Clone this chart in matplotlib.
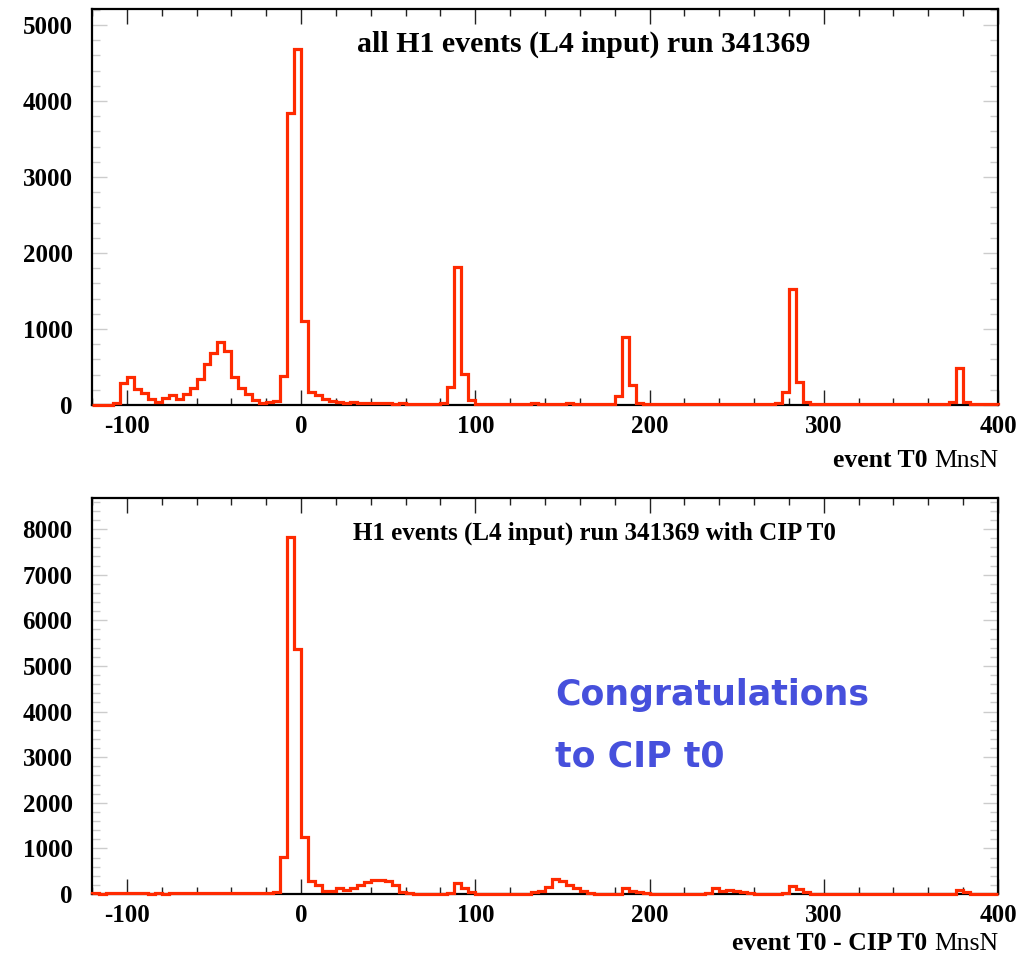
import numpy as np
import matplotlib
matplotlib.use("Agg")
import matplotlib.pyplot as plt
from matplotlib.ticker import MultipleLocator

# bins of width 4 from -120 to 400
bin_edges = np.arange(-120, 401, 4)

# all H1 events (L4 input), counts per bin
counts_all = [
    0, 0, 5, 20, 285, 365, 205, 155, 80, 40,            # -120 .. -84
    90, 125, 80, 140, 230, 340, 540, 690, 835, 710,     # -80 .. -44
    365, 230, 140, 65, 30, 45, 55, 380, 3840, 4680,     # -40 .. -4
    1110, 175, 125, 80, 55, 40, 30, 35, 25, 30,         # 0 .. 36
    20, 25, 20, 15, 20, 10, 15, 10, 15, 10,             # 40 .. 76
    30, 240, 1810, 410, 65, 15, 10, 15, 10, 15,         # 80 .. 116
    10, 15, 10, 20, 10, 15, 10, 15, 20, 10,             # 120 .. 156
    15, 10, 10, 15, 10, 120, 900, 265, 20, 10,          # 160 .. 196
    15, 10, 10, 15, 10, 10, 15, 10, 10, 15,             # 200 .. 236
    10, 10, 15, 10, 10, 10, 15, 10, 20, 175,            # 240 .. 276
    1525, 305, 45, 10, 15, 10, 10, 15, 10, 10,          # 280 .. 316
    10, 15, 10, 10, 10, 15, 10, 10, 15, 10,             # 320 .. 356
    10, 10, 10, 35, 490, 35, 10, 10, 10, 10,            # 360 .. 396
]

# events with CIP T0, event T0 - CIP T0
counts_cip = [
    15, 10, 20, 25, 20, 15, 25, 15, 10, 20,             # -120 .. -84
    10, 15, 20, 15, 25, 20, 30, 20, 25, 20,             # -80 .. -44
    15, 20, 15, 25, 20, 30, 40, 810, 7825, 5375,        # -40 .. -4
    1240, 295, 195, 75, 75, 125, 90, 125, 205, 255,     # 0 .. 36
    300, 300, 285, 190, 35, 15, 10, 10, 10, 10,         # 40 .. 76
    10, 30, 235, 125, 35, 10, 10, 10, 10, 10,           # 80 .. 116
    10, 10, 10, 35, 75, 145, 330, 275, 205, 130,        # 120 .. 156
    60, 20, 10, 10, 10, 10, 125, 75, 35, 15,            # 160 .. 196
    10, 10, 10, 10, 10, 10, 10, 10, 20, 125,            # 200 .. 236
    75, 95, 60, 35, 15, 10, 10, 10, 10, 20,             # 240 .. 276
    170, 110, 35, 10, 10, 10, 10, 10, 10, 10,           # 280 .. 316
    10, 10, 10, 10, 10, 10, 10, 10, 10, 10,             # 320 .. 356
    10, 10, 10, 10, 95, 35, 10, 10, 10, 10,             # 360 .. 396
]

title_all = "all H1 events (L4 input) run 341369"
title_cip = "H1 events (L4 input) run 341369 with CIP T0"
xlabel_all = "event T0"
xlabel_cip = "event T0 - CIP T0"
unit = "MnsN"

plt.rcParams['font.family'] = ['Liberation Serif', 'DejaVu Serif']
plt.rcParams['axes.unicode_minus'] = False
line_col = '#ff2a00'

fig = plt.figure(figsize=(10.30, 9.56), dpi=100)
ax1 = fig.add_axes([92/1030, 1 - 405/956, 906/1030, 396/956])
ax2 = fig.add_axes([92/1030, 1 - 894/956, 906/1030, 396/956])


def style_axes(ax, ymax, title, title_x, title_y, title_size, xlabel, label_y):
    ax.set_xlim(-120, 400)
    ax.set_ylim(0, ymax)
    ax.xaxis.set_major_locator(MultipleLocator(100))
    ax.xaxis.set_minor_locator(MultipleLocator(20))
    ax.yaxis.set_major_locator(MultipleLocator(1000))
    ax.yaxis.set_minor_locator(MultipleLocator(200))
    ax.tick_params(axis='x', which='both', direction='in', top=True, color='#222222', width=1.0)
    ax.tick_params(axis='x', which='major', length=11, pad=7, labelsize=18)
    ax.tick_params(axis='x', which='minor', length=5)
    ax.tick_params(axis='y', which='both', direction='in', right=True, color='#cccccc', width=1.0)
    ax.tick_params(axis='y', which='major', length=11, pad=14, labelsize=18)
    ax.tick_params(axis='y', which='minor', length=6)
    for lab in ax.get_xticklabels() + ax.get_yticklabels():
        lab.set_fontweight('bold')
    for sp in ax.spines.values():
        sp.set_linewidth(1.6)
    ax.text(title_x, title_y, title, transform=ax.transAxes, fontsize=title_size,
            fontweight='bold', ha='left', va='baseline')
    u = ax.text(1.0, label_y, unit, transform=ax.transAxes, fontsize=18.5,
                ha='right', va='bottom')
    ax.annotate(xlabel + " ", xy=(0, 0), xycoords=u, fontsize=18.5,
                fontweight='bold', ha='right', va='bottom')


ax1.stairs(counts_all, bin_edges, color=line_col, linewidth=2.3, baseline=0,
           zorder=3, clip_on=False)
style_axes(ax1, 5210, title_all, 0.2925, 0.891, 21.5, xlabel_all, -0.168)

ax2.stairs(counts_cip, bin_edges, color=line_col, linewidth=2.3, baseline=0,
           zorder=3, clip_on=False)
style_axes(ax2, 8680, title_cip, 0.288, 0.896, 18, xlabel_cip, -0.155)

ax2.text(0.511, 0.5025, "Congratulations", transform=ax2.transAxes,
         fontsize=25, fontweight='bold', color='#4650dc',
         family='DejaVu Sans', ha='left', va='center')
ax2.text(0.511, 0.346, "to CIP t0", transform=ax2.transAxes,
         fontsize=25, fontweight='bold', color='#4650dc',
         family='DejaVu Sans', ha='left', va='center')

plt.savefig('out.png', dpi=100)
plt.close()
